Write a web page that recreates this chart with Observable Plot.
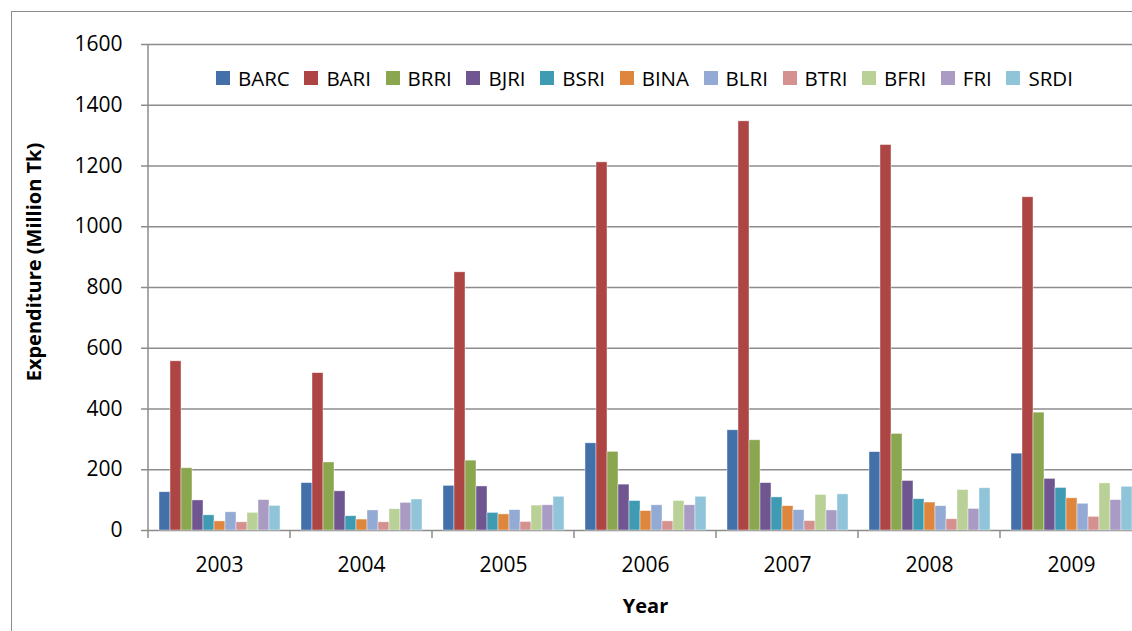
<!DOCTYPE html>
<html>
<head>
<meta charset="utf-8">
<script src="https://cdn.jsdelivr.net/npm/d3@7"></script>
<script src="https://cdn.jsdelivr.net/npm/@observablehq/plot@0.6"></script>
<style>
html, body { margin: 0; padding: 0; background: #fff; overflow: hidden; }
#wrap { position: absolute; left: 0; top: 0; width: 1132px; height: 631px; overflow: hidden; background: #fff; font-family: "Open Sans", sans-serif; }
#border { position: absolute; left: 11px; top: 11px; width: 1400px; height: 900px; border: 1px solid #8c8c8c; box-sizing: border-box; }
#chart { position: absolute; left: 0; top: 0; width: 1150px; }
#chart svg { max-width: none !important; }
#ytitle { position: absolute; left: 33px; top: 262px; transform: translate(-50%, -50%) rotate(-90deg); font-weight: bold; font-size: 20px; white-space: nowrap; color: #000; }
#legend { position: absolute; left: 216px; top: 64px; width: 857px; }
#legend .lg-swatches-wrap { display: flex; justify-content: space-between; flex-wrap: nowrap; font-family: "Open Sans", sans-serif; font-size: 20.5px; min-height: 0; margin: 0; color: #000; }
#legend .lg-swatch { margin-right: 0; }
#legend .lg-swatch > svg { margin-right: 8px; }
</style>
</head>
<body>
<div id="wrap">
  <div id="border"></div>
  <div id="chart"></div>
  <div id="ytitle">Expenditure (Million Tk)</div>
  <div id="legend"></div>
</div>
<script>
const years = ["2003", "2004", "2005", "2006", "2007", "2008", "2009"];
const institutes = ["BARC", "BARI", "BRRI", "BJRI", "BSRI", "BINA", "BLRI", "BTRI", "BFRI", "FRI", "SRDI"];
const colors = ["#4470a9", "#ac4543", "#8aa74f", "#6f5691", "#3f9bb2", "#de853e", "#93aad4", "#d49190", "#b9d097", "#a99bc3", "#90c5d9"];

const BARC = [126, 156, 147, 287, 330, 258, 253];
const BARI = [557, 518, 850, 1212, 1347, 1269, 1097];
const BRRI = [205, 224, 230, 259, 297, 318, 388];
const BJRI = [99, 129, 145, 151, 156, 163, 170];
const BSRI = [50, 47, 58, 97, 109, 103, 140];
const BINA = [30, 36, 53, 64, 80, 92, 106];
const BLRI = [60, 66, 67, 83, 67, 80, 88];
const BTRI = [27, 27, 28, 30, 31, 37, 45];
const BFRI = [58, 70, 82, 97, 117, 133, 155];
const FRI  = [100, 91, 83, 83, 66, 71, 100];
const SRDI = [81, 102, 111, 111, 119, 139, 144];

const yTicks = [0, 200, 400, 600, 800, 1000, 1200, 1400, 1600];

const series = {BARC, BARI, BRRI, BJRI, BSRI, BINA, BLRI, BTRI, BFRI, FRI, SRDI};
const data = [];
years.forEach((yr, i) => institutes.forEach(inst => data.push({year: yr, inst, value: series[inst][i]})));

const chart = Plot.plot({
  width: 1150,
  height: 631,
  marginLeft: 146,
  marginRight: 6.5,
  marginTop: 44,
  marginBottom: 101,
  style: {fontFamily: "Open Sans, sans-serif", fontSize: "20px", background: "transparent", color: "#000", maxWidth: "none"},
  fx: {domain: years, padding: 0, label: "Year"},
  x: {domain: institutes, paddingInner: 0, paddingOuter: 0.77, axis: null},
  y: {domain: [0, 1600]},
  color: {domain: institutes, range: colors},
  marks: [
    Plot.gridY(yTicks, {stroke: "#8c8c8c", strokeOpacity: 1, strokeWidth: 1.5}),
    Plot.barY(data, {fx: "year", x: "inst", y: "value", fill: "inst", stroke: "#fff", strokeWidth: 0.7, strokeOpacity: 0.6}),
    Plot.axisY(yTicks, {tickSize: 7, tickPadding: 19, tickFormat: d => String(d), stroke: "#8c8c8c", strokeWidth: 1.5, fill: "#000", fontSize: 21, label: null}),
    Plot.axisFx({anchor: "bottom", tickSize: 0, tickPadding: 27, fontSize: 21, label: "Year", labelAnchor: "center", labelOffset: 82}),
  ]
});

document.getElementById("chart").appendChild(chart);

// Year label bold
d3.select(chart).selectAll("text").filter(function () { return this.textContent === "Year"; }).attr("font-weight", "bold").attr("font-size", 20);

// axis line and category boundary ticks, positioned with the chart's own scales
const fx = chart.scale("fx");
const ys = chart.scale("y");
const bw = fx.bandwidth !== undefined ? fx.bandwidth : (fx.range[1] - fx.range[0]) / years.length;
const bounds = years.map(v => fx.apply(v)).concat([fx.apply(years[years.length - 1]) + bw]);
const y0 = ys.apply(0), yTop = ys.apply(1600);
const g = d3.select(chart).append("g").attr("stroke", "#8c8c8c").attr("stroke-width", 1.5);
g.append("line").attr("x1", bounds[0]).attr("x2", bounds[0]).attr("y1", yTop).attr("y2", y0 + 8);
bounds.slice(1).forEach(b => g.append("line").attr("x1", b).attr("x2", b).attr("y1", y0).attr("y2", y0 + 8));

const legend = chart.legend("color", {swatchSize: 14, className: "lg"});
document.getElementById("legend").appendChild(legend);
</script>
</body>
</html>
